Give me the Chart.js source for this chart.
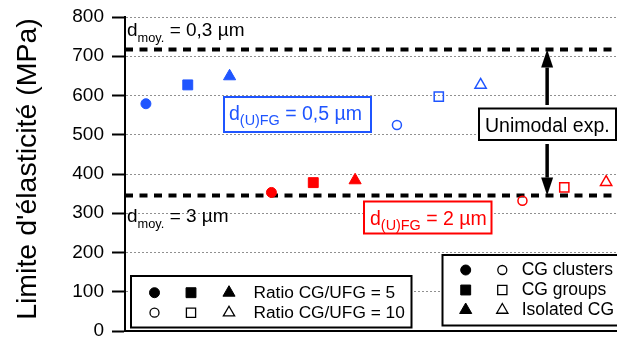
<!DOCTYPE html>
<html lang="fr">
<head>
<meta charset="utf-8">
<script src="https://cdn.jsdelivr.net/npm/chart.js@4.4.1/dist/chart.umd.min.js"></script>
<style>
  html, body { margin: 0; padding: 0; background: #fff; }
  #wrap { width: 617px; height: 338px; position: relative; }
</style>
</head>
<body>
<div id="wrap"><canvas id="grafico"></canvas></div>
<script>
// Données
const morphologies = ['CG clusters', 'CG groups', 'Isolated CG'];
const formes = ['circle', 'rect', 'triangle'];

// ratio CG/UFG = 5 (symboles pleins)
const xBleu5 = [1, 2, 3];
const yBleu5 = [579, 627, 649];
const xRouge5 = [4, 5, 6];
const yRouge5 = [353, 378, 384];
// ratio CG/UFG = 10 (symboles vides)
const xBleu10 = [7, 8, 9];
const yBleu10 = [525, 597, 627];
const xRouge10 = [10, 11, 12];
const yRouge10 = [332, 366, 379];

// limites unimodales (d moy. = 0,3 µm et 3 µm)
const limitesUnimodal = [717, 345];
const ticksY = [0, 100, 200, 300, 400, 500, 600, 700, 800];

const BLEU = '#1f55ff';
const ROUGE = '#ff0000';
const POLICE = '"Liberation Sans", Arial, sans-serif';
const X_MIN = 0.5, X_MAX = 12.26;

function points(xs, ys) {
  return xs.map((x, i) => ({ x: x, y: ys[i] }));
}

function serie(xs, ys, couleur, plein) {
  return {
    type: 'scatter',
    data: points(xs, ys),
    pointStyle: formes,
    pointRadius: plein ? [5, 7, 7] : [4.5, 6.5, 6.5],
    pointBackgroundColor: plein ? couleur : 'rgba(255,255,255,0)',
    pointBorderColor: couleur,
    pointBorderWidth: plein ? 1 : 1.5,
    order: 0
  };
}

function ligneTirets(valeur) {
  return {
    type: 'line',
    data: [{ x: X_MIN, y: valeur }, { x: X_MAX, y: valeur }],
    borderColor: '#000',
    borderWidth: 4,
    borderDash: [8, 6.5],
    pointRadius: 0,
    order: 10
  };
}

// texte avec indice : d_moy. = ...
function texteIndice(ctx, x, y, base, indice, suite, taille, tailleIndice, decalage) {
  ctx.textAlign = 'left';
  ctx.textBaseline = 'alphabetic';
  ctx.font = taille + 'px ' + POLICE;
  ctx.fillText(base, x, y);
  let w = ctx.measureText(base).width;
  ctx.font = tailleIndice + 'px ' + POLICE;
  ctx.fillText(indice, x + w, y + decalage);
  w += ctx.measureText(indice).width;
  ctx.font = taille + 'px ' + POLICE;
  ctx.fillText(suite, x + w, y);
}

function cadre(ctx, x1, y1, x2, y2, couleur) {
  ctx.fillStyle = '#fff';
  ctx.fillRect(x1, y1, x2 - x1, y2 - y1);
  ctx.strokeStyle = couleur;
  ctx.lineWidth = 2;
  ctx.setLineDash([]);
  ctx.strokeRect(x1 + 1, y1 + 1, x2 - x1 - 2, y2 - y1 - 2);
}

function symbole(ctx, forme, x, y, plein) {
  const rayon = forme === 'circle' ? (plein ? 5 : 4.5) : (plein ? 7 : 6.5);
  ctx.fillStyle = plein ? '#000' : '#fff';
  ctx.strokeStyle = '#000';
  ctx.lineWidth = plein ? 1 : 1.3;
  Chart.helpers.drawPoint(ctx, { pointStyle: forme, radius: rayon, rotation: 0, borderWidth: ctx.lineWidth }, x, y);
}

function fleche(ctx, x, yDepart, yPointe) {
  const sens = yPointe > yDepart ? 1 : -1;
  const longTete = 18, demiLarg = 6;
  ctx.strokeStyle = '#000';
  ctx.fillStyle = '#000';
  ctx.lineWidth = 3.5;
  ctx.setLineDash([]);
  ctx.beginPath();
  ctx.moveTo(x, yDepart);
  ctx.lineTo(x, yPointe - sens * longTete);
  ctx.stroke();
  ctx.beginPath();
  ctx.moveTo(x, yPointe);
  ctx.lineTo(x - demiLarg, yPointe - sens * longTete);
  ctx.lineTo(x + demiLarg, yPointe - sens * longTete);
  ctx.closePath();
  ctx.fill();
}

const annotations = {
  id: 'annotations',
  afterDraw(chart) {
    const ctx = chart.ctx;
    const sx = chart.scales.x, sy = chart.scales.y;
    const area = chart.chartArea;
    const yHaut = sy.getPixelForValue(limitesUnimodal[0]);
    const yBas = sy.getPixelForValue(limitesUnimodal[1]);
    ctx.save();

    // titre de l'axe Y
    ctx.save();
    ctx.translate(35.5, 169);
    ctx.rotate(-Math.PI / 2);
    ctx.fillStyle = '#000';
    ctx.font = '28.5px ' + POLICE;
    ctx.textAlign = 'center';
    ctx.textBaseline = 'alphabetic';
    ctx.fillText("Limite d'élasticité (MPa)", 0, 0);
    ctx.restore();

    // d moy.
    ctx.fillStyle = '#000';
    texteIndice(ctx, area.left + 2, yHaut - 13.5, 'd', 'moy.', ' = 0,3 µm', 19, 12.8, 6.3);
    texteIndice(ctx, area.left + 2, yBas + 26, 'd', 'moy.', ' = 3 µm', 19, 12.8, 6.3);

    // cadres d(U)FG
    cadre(ctx, 223, 96, 372, 133, BLEU);
    ctx.fillStyle = BLEU;
    texteIndice(ctx, 229, 119.5, 'd', '(U)FG', ' = 0,5 µm', 19.5, 14.4, 5.7);
    cadre(ctx, 363, 200.5, 492.5, 234.5, ROUGE);
    ctx.fillStyle = ROUGE;
    texteIndice(ctx, 370, 224.5, 'd', '(U)FG', ' = 2 µm', 19.5, 14.4, 5.7);

    // Unimodal exp. + flèches
    const xFleche = sx.getPixelForValue(10.59);
    fleche(ctx, xFleche, 105, yHaut);
    fleche(ctx, xFleche, 144, yBas);
    cadre(ctx, 478, 107.5, 617, 141, '#000');
    ctx.fillStyle = '#000';
    ctx.font = '19.5px ' + POLICE;
    ctx.textAlign = 'left';
    ctx.textBaseline = 'alphabetic';
    ctx.fillText('Unimodal exp.', 485, 131.5);

    // légende ratio
    cadre(ctx, 130, 275, 412.5, 328.5, '#000');
    const xsRatio = [154.5, 191, 229];
    formes.forEach((f, i) => {
      symbole(ctx, f, xsRatio[i], 292.7, true);
      symbole(ctx, f, xsRatio[i], 312.7, false);
    });
    ctx.fillStyle = '#000';
    ctx.font = '17.3px ' + POLICE;
    ctx.textBaseline = 'middle';
    ctx.fillText('Ratio CG/UFG = 5', 253.5, 293);
    ctx.fillText('Ratio CG/UFG = 10', 253.5, 313);

    // légende morphologies
    cadre(ctx, 441.5, 254, 630, 326.5, '#000');
    const ysMorph = [270, 290, 310];
    morphologies.forEach((m, i) => {
      symbole(ctx, formes[i], 465.7, ysMorph[i], true);
      symbole(ctx, formes[i], 502.3, ysMorph[i], false);
      ctx.fillStyle = '#000';
      ctx.font = '17.5px ' + POLICE;
      ctx.textBaseline = 'middle';
      ctx.textAlign = 'left';
      ctx.fillText(m, 521.7, ysMorph[i] + 0.5);
    });

    ctx.restore();
  }
};

new Chart(document.getElementById('grafico'), {
  type: 'scatter',
  data: {
    datasets: [
      serie(xBleu5, yBleu5, BLEU, true),
      serie(xRouge5, yRouge5, ROUGE, true),
      serie(xBleu10, yBleu10, BLEU, false),
      serie(xRouge10, yRouge10, ROUGE, false),
      ligneTirets(limitesUnimodal[0]),
      ligneTirets(limitesUnimodal[1])
    ]
  },
  options: {
    responsive: true,
    maintainAspectRatio: false,
    animation: false,
    layout: { autoPadding: false, padding: { top: 17, left: 0, right: 0, bottom: 7 } },
    scales: {
      x: {
        type: 'linear',
        min: X_MIN,
        max: X_MAX,
        grid: { display: false, drawTicks: false },
        ticks: { display: false },
        border: { display: true, color: '#000', width: 2 },
        afterFit: function(scale) {
          scale.height = 0;
          scale.paddingLeft = 0;
          scale.paddingRight = 0;
        }
      },
      y: {
        min: 0,
        max: 800,
        afterBuildTicks: function(scale) {
          scale.ticks = ticksY.map(v => ({ value: v }));
        },
        grid: {
          color: '#909090',
          lineWidth: 1,
          tickColor: '#000',
          tickWidth: 2,
          tickLength: 13,
          tickBorderDash: []
        },
        border: { display: true, color: '#000', width: 2, dash: [2, 2] },
        ticks: {
          color: '#000',
          padding: 8,
          font: { family: POLICE, size: 19 }
        },
        afterFit: function(scale) {
          scale.width = 125;
          scale.paddingTop = 0;
          scale.paddingBottom = 0;
        }
      }
    },
    plugins: {
      legend: { display: false },
      tooltip: { enabled: false }
    }
  },
  plugins: [annotations]
});
</script>
</body>
</html>
